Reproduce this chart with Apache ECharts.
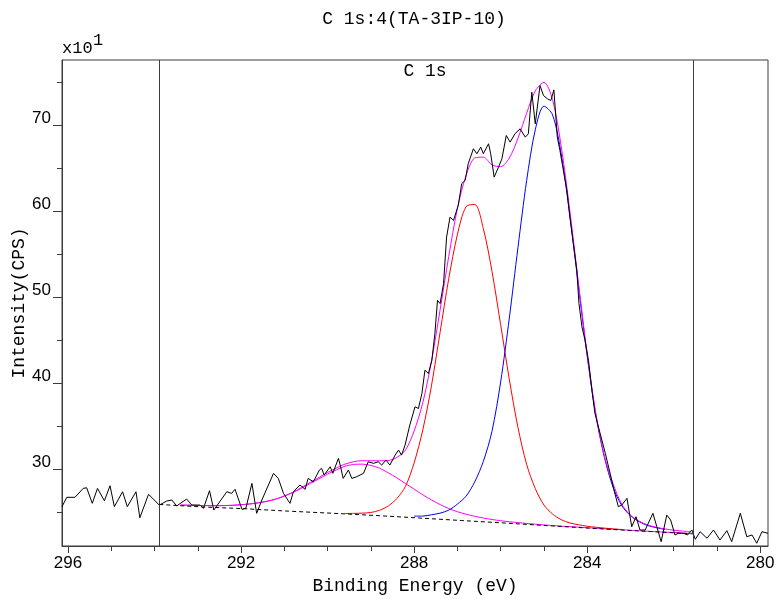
<!DOCTYPE html>
<html>
<head>
<meta charset="utf-8">
<script src="https://cdn.jsdelivr.net/npm/echarts@6/dist/echarts.min.js"></script>
<style>
html,body{margin:0;padding:0;background:#fff;}
#chart{width:776px;height:599px;}
</style>
</head>
<body>
<div id="chart"></div>
<script>
// ---------- data ----------
const titleText = 'C 1s:4(TA-3IP-10)';
const regionLabel = 'C 1s';
const xName = 'Binding Energy (eV)';
const yName = 'Intensity(CPS)';
const yScaleText = 'x10';
const yScaleExp = '1';

const xMajorTicks = [280, 284, 288, 292, 296];
const xMinorTicks = [281, 282, 283, 285, 286, 287, 289, 290, 291, 293, 294, 295];
const yMajorTicks = [30, 40, 50, 60, 70];
const yMinorTicks = [25, 35, 45, 55, 65, 75];
const xRange = [279.82, 296.14];
const yRange = [21.09, 77.6];
const regionBounds = [293.89, 281.54];

// measured spectrum
const spectrumE = [296.14,296.03,295.84,295.65,295.57,295.44,295.32,295.16,295.03,294.93,
294.74,294.63,294.43,294.34,294.14,293.89,293.72,293.60,293.49,293.26,
293.14,292.95,292.87,292.73,292.63,292.33,292.22,292.14,291.98,291.89,
291.75,291.64,291.52,291.25,291.14,291.02,290.87,290.79,290.64,290.52,
290.45,290.33,290.19,290.14,290.08,289.94,289.88,289.75,289.70,289.64,
289.52,289.44,289.33,289.17,289.06,288.94,288.83,288.75,288.65,288.56,
288.44,288.36,288.29,288.21,288.10,287.98,287.90,287.82,287.75,287.67,
287.59,287.52,287.46,287.40,287.32,287.25,287.17,287.09,287.05,286.98,
286.90,286.82,286.75,286.63,286.55,286.46,286.40,286.28,286.23,286.15,
286.05,285.97,285.87,285.78,285.67,285.55,285.43,285.36,285.28,285.20,
285.09,285.01,284.92,284.84,284.77,284.69,284.63,284.55,284.47,284.40,
284.32,284.24,284.19,284.12,284.05,283.97,283.89,283.82,283.70,283.58,
283.47,283.38,283.28,283.20,283.08,282.97,282.87,282.78,282.66,282.48,
282.39,282.29,282.16,282.07,281.97,281.89,281.77,281.68,281.58,281.50,
281.39,281.23,281.08,280.93,280.77,280.66,280.46,280.31,280.19,280.08,
279.96,279.82];
const spectrumV = [25.66,26.75,26.75,27.79,27.86,26.05,27.79,26.35,28.10,25.66,
27.40,25.66,27.40,24.38,27.10,25.85,26.32,26.44,25.74,26.55,
25.85,25.85,25.47,27.52,25.27,27.40,27.21,27.68,25.36,25.47,
28.37,24.89,26.44,29.54,28.95,27.21,26.05,27.40,28.18,27.68,
28.95,28.56,29.92,30.12,29.34,30.30,29.54,31.28,30.30,28.95,
29.92,28.95,29.14,29.54,30.88,30.70,30.88,30.50,31.08,30.50,
31.66,32.24,31.66,32.82,35.15,37.27,37.08,38.83,41.53,41.15,
42.69,45.80,49.66,49.28,51.60,57.01,59.34,58.95,58.76,60.70,
63.22,63.60,65.54,67.28,66.70,67.47,66.70,67.86,66.70,63.98,
65.14,66.12,68.82,68.05,69.02,69.60,68.63,69.02,73.85,70.18,
74.63,73.47,73.09,72.89,74.13,68.63,67.08,64.76,62.44,59.34,
56.25,53.15,49.28,46.56,45.02,42.69,39.21,36.50,34.18,31.86,
29.54,27.60,25.66,25.85,26.63,23.33,24.50,22.95,22.95,24.89,
23.33,21.59,24.69,24.11,22.37,22.57,22.57,22.37,22.95,21.87,
22.75,21.99,22.95,21.79,22.87,21.59,24.89,22.17,22.37,21.41,
22.75,22.57];

// fitted curves on a common energy grid (null = not drawn)
const fitE = [293.8,293.6,293.4,293.2,293.0,292.8,292.6,292.4,292.2,292.0,
291.8,291.6,291.4,291.2,291.0,290.8,290.6,290.4,290.2,290.0,
289.8,289.6,289.4,289.2,289.0,288.8,288.6,288.4,288.2,288.0,
287.8,287.6,287.4,287.2,287.0,286.8,286.6,286.4,286.2,286.0,
285.8,285.6,285.4,285.2,285.0,284.8,284.6,284.4,284.2,284.0,
283.8,283.6,283.4,283.2,283.0,282.8,282.6,282.4,282.2,282.0,
281.8,281.6];
const peak1V = [null,null,25.85,25.83,25.80,25.79,25.78,25.79,25.82,25.89,
25.98,26.11,26.29,26.54,26.90,27.33,27.81,28.36,28.90,29.45,
29.93,30.36,30.57,30.61,30.46,30.14,29.60,29.01,28.35,27.70,
27.04,26.45,25.91,25.44,25.08,24.79,24.55,24.35,24.17,24.03,
23.91,23.81,23.71,23.63,23.54,23.47,23.40,23.34,23.28,23.21,
23.16,23.09,23.04,22.98,22.92,22.86,22.81,22.75,22.70,22.66,
22.61,22.55];
const peak2V = [null,null,null,null,null,null,null,null,null,null,
null,null,null,null,null,null,null,null,null,null,
null,24.87,24.88,24.91,24.99,25.24,25.74,26.61,28.03,30.76,
34.58,39.71,45.94,52.18,57.30,60.55,60.80,57.99,53.01,46.82,
40.47,34.87,30.59,27.77,25.86,24.81,24.15,23.77,23.56,23.39,
23.27,23.17,23.08,23.01,null,null,null,null,null,null,
null,null];
const peak3V = [null,null,null,null,null,null,null,null,null,null,
null,null,null,null,null,null,null,null,null,null,
null,null,null,null,null,null,null,null,null,24.56,
24.57,24.72,24.91,25.26,25.96,26.88,28.54,30.93,34.44,40.16,
47.58,55.80,63.56,69.48,72.23,71.22,66.67,59.52,51.25,43.17,
36.32,31.37,27.90,25.79,24.61,23.92,23.47,23.22,23.02,null,
null,null];
const envelopeV = [null,null,25.85,25.83,25.80,25.79,25.78,25.79,25.82,25.89,
25.98,26.11,26.29,26.54,26.90,27.33,27.91,28.49,29.06,29.64,
30.15,30.60,30.89,31.01,31.00,31.00,31.03,31.39,32.25,34.46,
37.75,42.54,48.54,54.76,60.34,64.17,66.20,66.30,65.40,65.20,
66.20,68.50,71.40,74.00,75.00,73.00,67.54,60.05,51.63,43.43,
36.51,31.51,28.30,25.95,24.68,23.98,23.53,23.27,23.07,22.93,
22.83,22.73];
const backgroundE = [293.89,292.9,291.9,290.9,289.9,288.9,287.9,286.9,285.9,284.9,283.9,282.9,281.55];
const backgroundV = [25.92,25.63,25.42,25.14,24.90,24.64,24.35,24.05,23.76,23.45,23.15,22.87,22.50];

// ---------- chart ----------
const pair = (xs, ys) => xs.map((x, i) => [x, ys[i]]);
const chart = echarts.init(document.getElementById('chart'), null, {renderer: 'canvas'});
const frameColor = '#3c3c3c';
const monoFont = '"Liberation Mono", "DejaVu Sans Mono", monospace';
const sansFont = '"Liberation Sans", Arial, sans-serif';

const option = {
  animation: false,
  backgroundColor: '#fff',
  grid: {left: 62, right: 8, top: 60, bottom: 53, show: true, borderColor: frameColor, borderWidth: 1,
         containLabel: false, outerBoundsMode: 'none'},
  xAxis: [
    {type: 'value', min: xRange[0], max: xRange[1], inverse: true, position: 'bottom',
     axisLine: {show: true, onZero: false, lineStyle: {color: frameColor, width: 1}},
     axisTick: {show: true, inside: false, length: 7, customValues: xMajorTicks, lineStyle: {color: frameColor}},
     axisLabel: {show: true, customValues: xMajorTicks, margin: 9, color: '#000', fontSize: 17, fontFamily: sansFont},
     splitLine: {show: false}},
    {type: 'value', min: xRange[0], max: xRange[1], inverse: true, position: 'bottom',
     axisLine: {show: false, onZero: false},
     axisTick: {show: true, inside: false, length: 5, customValues: xMinorTicks, lineStyle: {color: frameColor}},
     axisLabel: {show: false}, splitLine: {show: false}}
  ],
  yAxis: [
    {type: 'value', min: yRange[0], max: yRange[1], position: 'left',
     axisLine: {show: true, onZero: false, lineStyle: {color: frameColor, width: 1}},
     axisTick: {show: true, inside: false, length: 9, customValues: yMajorTicks, lineStyle: {color: frameColor}},
     axisLabel: {show: true, customValues: yMajorTicks, margin: 11, color: '#000', fontSize: 17, fontFamily: sansFont,
                 verticalAlign: 'bottom', lineHeight: 14},
     splitLine: {show: false}},
    {type: 'value', min: yRange[0], max: yRange[1], position: 'left',
     axisLine: {show: false, onZero: false},
     axisTick: {show: true, inside: false, length: 5, customValues: yMinorTicks, lineStyle: {color: frameColor}},
     axisLabel: {show: false}, splitLine: {show: false}}
  ],
  series: [
    {name: 'peak1', type: 'line', data: pair(fitE, peak1V), showSymbol: false, symbol: 'none', smooth: 0.3,
     lineStyle: {color: '#ff00ff', width: 1}, z: 2},
    {name: 'peak2', type: 'line', data: pair(fitE, peak2V), showSymbol: false, symbol: 'none', smooth: 0.3,
     lineStyle: {color: '#ff0000', width: 1}, z: 2},
    {name: 'peak3', type: 'line', data: pair(fitE, peak3V), showSymbol: false, symbol: 'none', smooth: 0.3,
     lineStyle: {color: '#0000ff', width: 1}, z: 2},
    {name: 'envelope', type: 'line', data: pair(fitE, envelopeV), showSymbol: false, symbol: 'none', smooth: 0.3,
     lineStyle: {color: '#ff00ff', width: 1}, z: 3},
    {name: 'spectrum', type: 'line', data: pair(spectrumE, spectrumV), showSymbol: false, symbol: 'none',
     lineStyle: {color: '#000', width: 1}, z: 4,
     markLine: {silent: true, symbol: ['none', 'none'], label: {show: false},
       lineStyle: {color: frameColor, type: 'solid', width: 1},
       data: regionBounds.map(v => ({xAxis: v}))}},
    {name: 'background', type: 'line', data: pair(backgroundE, backgroundV), showSymbol: false, symbol: 'none',
     lineStyle: {color: '#000', width: 1, type: [4, 3]}, z: 5}
  ],
  graphic: [
    {type: 'text', x: 414, y: 19, style: {text: titleText, font: '18px ' + monoFont, fill: '#000', textAlign: 'center', textVerticalAlign: 'middle'}},
    {type: 'text', x: 62, y: 48, style: {text: yScaleText, font: '17px ' + monoFont, fill: '#000', textAlign: 'left', textVerticalAlign: 'middle'}},
    {type: 'text', x: 93, y: 40, style: {text: yScaleExp, font: '17px ' + monoFont, fill: '#000', textAlign: 'left', textVerticalAlign: 'middle'}},
    {type: 'text', x: 425, y: 71, style: {text: regionLabel, font: '18px ' + monoFont, fill: '#000', textAlign: 'center', textVerticalAlign: 'middle'}},
    {type: 'text', x: 415, y: 586, style: {text: xName, font: '18px ' + monoFont, fill: '#000', textAlign: 'center', textVerticalAlign: 'middle'}},
    {type: 'text', x: 19, y: 303, rotation: Math.PI / 2, style: {text: yName, font: '18px ' + monoFont, fill: '#000', textAlign: 'center', textVerticalAlign: 'middle'}}
  ]
};
chart.setOption(option);
</script>
</body>
</html>
